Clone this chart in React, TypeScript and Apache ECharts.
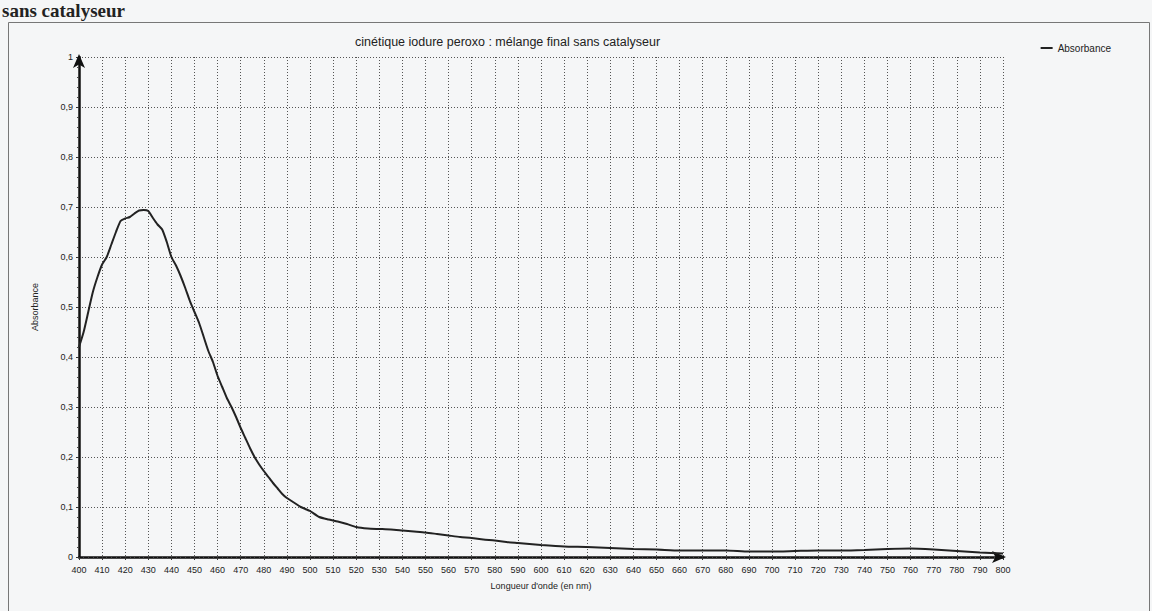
import React, { useEffect, useRef } from "react";
import * as echarts from "echarts";

const wavelengths = [
  400, 402, 404, 406, 408, 410, 412, 414, 416, 418, 420, 422, 424, 426, 428, 430,
  432, 434, 436, 438, 440, 442, 444, 446, 448, 450, 452, 454, 456, 458, 460, 462,
  464, 466, 468, 470, 472, 474, 476, 478, 480, 482, 484, 486, 488, 490, 492, 494,
  496, 498, 500, 504, 508, 512, 516, 520, 525, 530, 535, 540, 545, 550, 555, 560,
  565, 570, 575, 580, 585, 590, 595, 600, 610, 620, 630, 640, 650, 660, 670, 680,
  690, 700, 710, 720, 730, 740, 750, 760, 770, 780, 790, 800,
];
const absorbance = [
  0.42, 0.45, 0.49, 0.53, 0.56, 0.585, 0.6, 0.625, 0.65, 0.672, 0.677, 0.68, 0.687, 0.693, 0.694, 0.692,
  0.678, 0.665, 0.655, 0.63, 0.6, 0.583, 0.562, 0.538, 0.512, 0.49, 0.468, 0.44, 0.412, 0.39, 0.362, 0.34,
  0.318, 0.3, 0.28, 0.258, 0.238, 0.218, 0.2, 0.185, 0.172, 0.16, 0.148, 0.137, 0.126, 0.118, 0.112, 0.106,
  0.1, 0.096, 0.092, 0.08, 0.075, 0.071, 0.066, 0.06, 0.057, 0.056, 0.055, 0.053, 0.051, 0.049, 0.046, 0.043,
  0.04, 0.038, 0.035, 0.033, 0.03, 0.028, 0.026, 0.024, 0.021, 0.02, 0.018, 0.016, 0.015, 0.013, 0.013, 0.013,
  0.011, 0.011, 0.012, 0.013, 0.013, 0.014, 0.016, 0.017, 0.015, 0.012, 0.009, 0.007,
];

const titleText = "cinétique iodure peroxo : mélange final sans catalyseur";
const seriesName = "Absorbance";
const xAxisName = "Longueur d'onde (en nm)";
const yAxisName = "Absorbance";
const headerText = "sans catalyseur";

export default function App() {
  const ref = useRef<HTMLDivElement>(null);
  useEffect(() => {
    if (!ref.current) return;
    const chart = echarts.init(ref.current, null, { renderer: "svg" });
    const font = "'Liberation Sans', Arial, sans-serif";
    chart.setOption({
      animation: false,
      backgroundColor: "#f5f6f7",
      textStyle: { fontFamily: font },
      graphic: [
        {
          type: "rect",
          shape: { x: 8.5, y: 22.5, width: 1141, height: 600 },
          style: { fill: "none", stroke: "#777", lineWidth: 1 },
          silent: true,
        },
        {
          type: "text",
          x: 2,
          y: 1,
          style: {
            text: headerText,
            font: "bold 19px 'Liberation Serif', 'DejaVu Serif', serif",
            fill: "#222",
            textVerticalAlign: "top",
          },
          silent: true,
        },
      ],
      title: {
        text: titleText,
        left: 350,
        top: 30,
        textStyle: { fontSize: 12.5, fontWeight: "normal", color: "#222", fontFamily: font },
      },
      legend: {
        data: [seriesName],
        right: 36,
        top: 38,
        icon: "rect",
        itemWidth: 12,
        itemHeight: 2,
        itemGap: 6,
        textStyle: { fontSize: 10, color: "#222", fontFamily: font },
      },
      grid: { left: 79, right: 149, top: 57, bottom: 54, containLabel: false },
      xAxis: {
        type: "value",
        min: 400,
        max: 800,
        interval: 10,
        name: xAxisName,
        nameLocation: "middle",
        nameGap: 24,
        nameTextStyle: { fontSize: 9, color: "#222" },
        axisLine: {
          show: true,
          lineStyle: { color: "#111", width: 2.5 },
          symbol: ["none", "arrow"],
          symbolSize: [9, 14],
          symbolOffset: [0, 3],
        },
        axisTick: { show: true, length: 3, lineStyle: { color: "#333" } },
        minorTick: { show: true, splitNumber: 5, length: 2, lineStyle: { color: "#444" } },
        axisLabel: { fontSize: 9, color: "#222", margin: 8 },
        splitLine: { show: true, lineStyle: { color: "#555", type: [1, 2], width: 1 } },
      },
      yAxis: {
        type: "value",
        min: 0,
        max: 1,
        interval: 0.1,
        name: yAxisName,
        nameLocation: "middle",
        nameGap: 40,
        nameTextStyle: { fontSize: 9, color: "#222" },
        axisLine: {
          show: true,
          lineStyle: { color: "#111", width: 2.5 },
          symbol: ["none", "arrow"],
          symbolSize: [9, 14],
          symbolOffset: [0, 3],
        },
        axisTick: { show: true, length: 3, lineStyle: { color: "#333" } },
        minorTick: { show: true, splitNumber: 5, length: 2, lineStyle: { color: "#444" } },
        axisLabel: {
          fontSize: 9,
          color: "#222",
          margin: 6,
          formatter: (v: number) => String(Math.round(v * 10) / 10).replace(".", ","),
        },
        splitLine: { show: true, lineStyle: { color: "#555", type: [1, 2], width: 1 } },
      },
      series: [
        {
          name: seriesName,
          type: "line",
          data: wavelengths.map((w, i) => [w, absorbance[i]]),
          showSymbol: false,
          smooth: 0.2,
          lineStyle: { color: "#222", width: 2 },
          itemStyle: { color: "#222" },
        },
      ],
    });
    return () => chart.dispose();
  }, []);
  return (
    <div
      ref={ref}
      style={{ position: "fixed", left: 0, top: 0, width: 1152, height: 611 }}
    />
  );
}
